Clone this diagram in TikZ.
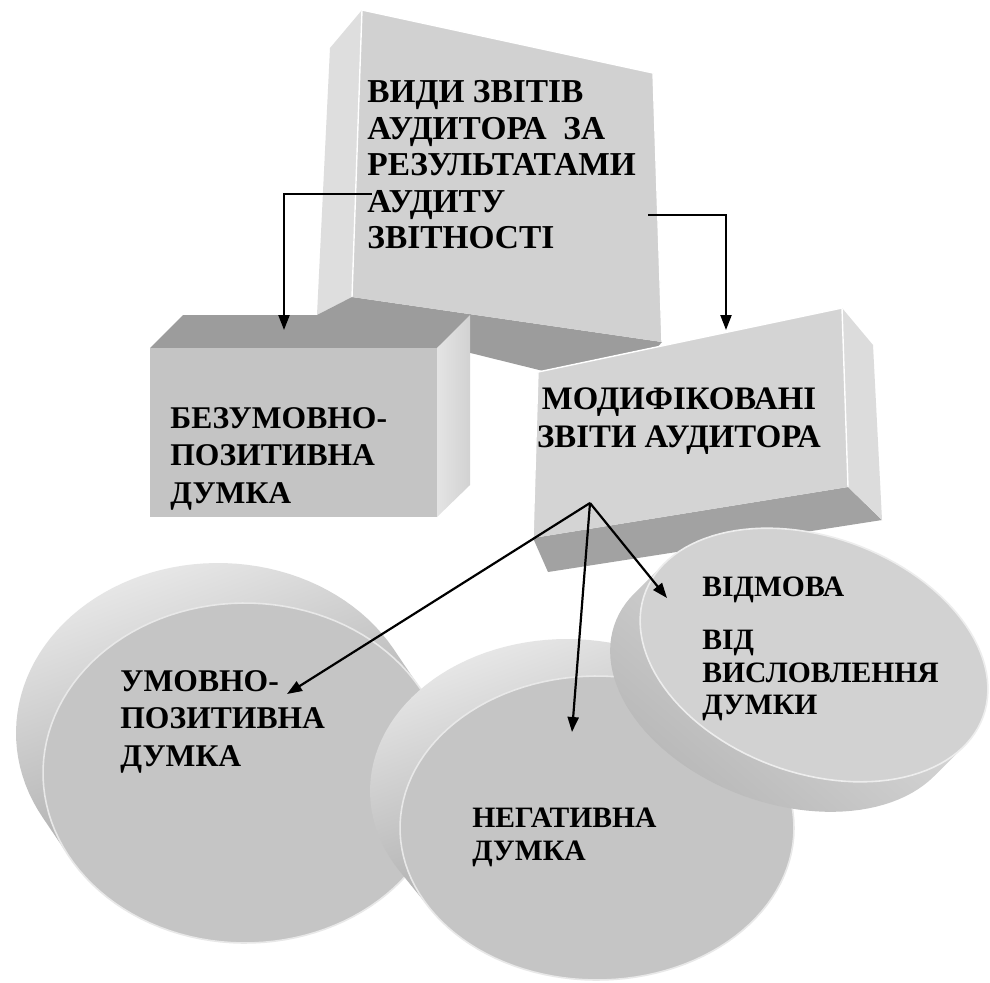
\documentclass[tikz,border=0pt]{standalone}
\usepackage{fontspec}
\setmainfont{Liberation Serif}
\usetikzlibrary{arrows.meta}
\definecolor{frontTop}{HTML}{D1D1D1}
\definecolor{sideTop}{HTML}{DEDEDE}
\definecolor{darkFace}{HTML}{9C9C9C}
\definecolor{frontLeft}{HTML}{C4C4C4}
\definecolor{sideLeft}{HTML}{E4E4E4}
\definecolor{frontMod}{HTML}{D4D4D4}
\definecolor{sideMod}{HTML}{DCDCDC}
\definecolor{botMod}{HTML}{A2A2A2}
\definecolor{discFace}{HTML}{C5C5C5}
\definecolor{discFaceV}{HTML}{D2D2D2}
\definecolor{bandLight}{HTML}{E6E6E6}
\definecolor{bandDark}{HTML}{8E8E8E}
\definecolor{bandMid}{HTML}{B8B8B8}
\newcommand\fontTopBox{\rmfamily\bfseries\fontsize{16.7}{18.25}\selectfont}
\newcommand\fontMidBox{\rmfamily\bfseries\fontsize{15.8}{18.75}\selectfont}
\newcommand\fontModBox{\rmfamily\bfseries\fontsize{16.4}{19}\selectfont}
\newcommand\fontDisc{\rmfamily\bfseries\fontsize{14.8}{16.25}\selectfont}
\begin{document}
\begin{tikzpicture}[x=0.5pt,y=-0.5pt,
  lbl/.style={inner sep=0pt, anchor=north west, align=left, text=black},
  conn/.style={line width=1.1pt, -{Triangle[length=7.5pt,width=5.5pt]}},
  hilite/.style={draw=white, line width=0.7pt, line join=round}]
\useasboundingbox (0,0) rectangle (990,982);
\fill[white] (0,0) rectangle (990,982);

% ---- top box
\fill[sideTop] (330,48) -- (362,10) -- (352,297) -- (317,315) -- cycle;
\fill[darkFace] (352,297) -- (662,342) -- (620,390) -- (317,315) -- cycle;
\fill[frontTop] (362,10) -- (653,73) -- (662,342) -- (352,297) -- cycle;
\draw[hilite] (352,297) -- (362,10) -- (653,73) -- (662,342);

% ---- left box
\fill[darkFace] (183,315) -- (470,315) -- (437,348) -- (150,348) -- cycle;
\shade[left color=sideLeft, right color=sideLeft!92!black] (437,348) -- (470,315) -- (470,485) -- (437,517) -- cycle;
\fill[frontLeft] (150,348) rectangle (437,517);

% ---- modified box
\fill[botMod] (533,538) -- (848,487) -- (882,520) -- (548,572) -- cycle;
\fill[sideMod] (842,308) -- (873,345) -- (882,520) -- (848,487) -- cycle;
\fill[frontMod] (538,372) -- (842,308) -- (848,487) -- (533,538) -- cycle;
\draw[hilite] (533,538) -- (538,372) -- (842,308) -- (848,487);

% ---- disc U
\shade[left color=bandLight, right color=bandDark, shading angle=20]
  plot[domain=-29.86:150.14, samples=60] ({245+202*cos(\x)},{773+170*sin(\x)})
  -- plot[domain=150.14:330.14, samples=60] ({218+202*cos(\x)},{733+170*sin(\x)}) -- cycle;
\filldraw[fill=discFace, draw=white!60!discFace, line width=0.8pt]
  plot[domain=0:360, samples=120] ({245+202*cos(\x)},{773+170*sin(\x)}) -- cycle;

% ---- disc N
\shade[left color=bandLight, right color=bandDark, shading angle=20]
  plot[domain=-32.03:147.97, samples=60] ({597+197*cos(\x)},{828+152*sin(\x)})
  -- plot[domain=147.97:327.97, samples=60] ({567+197*cos(\x)},{791+152*sin(\x)}) -- cycle;
\filldraw[fill=discFace, draw=white!60!discFace, line width=0.8pt]
  plot[domain=0:360, samples=120] ({597+197*cos(\x)},{828+152*sin(\x)}) -- cycle;

% ---- disc V
\shade[left color=bandLight, middle color=bandDark, right color=bandMid, shading angle=-40]
  plot[domain=197:377, samples=60] ({814+169.14*cos(\x)-40.36*sin(\x)},{655+61.56*cos(\x)+110.88*sin(\x)})
  -- plot[domain=17:197, samples=60] ({784+169.14*cos(\x)-40.36*sin(\x)},{685+61.56*cos(\x)+110.88*sin(\x)}) -- cycle;
\filldraw[fill=discFaceV, draw=white!60!discFaceV, line width=0.8pt]
  plot[domain=0:360, samples=120] ({814+169.14*cos(\x)-40.36*sin(\x)},{655+61.56*cos(\x)+110.88*sin(\x)}) -- cycle;

% ---- texts
\node[lbl, font=\fontTopBox] (tTop) at (367,80) {ВИДИ ЗВІТІВ\\АУДИТОРА\ \ ЗА\\РЕЗУЛЬТАТАМИ\\АУДИТУ\\ЗВІТНОСТІ};
\node[lbl, font=\fontMidBox] (tLeft) at (170,407) {БЕЗУМОВНО-\\ПОЗИТИВНА\\ДУМКА};
\node[lbl, font=\fontModBox, anchor=north, align=center] (tMod) at (679,387) {МОДИФІКОВАНІ\\ЗВІТИ АУДИТОРА};
\node[lbl, font=\fontMidBox] (tU) at (120,670) {УМОВНО-\\ПОЗИТИВНА\\ДУМКА};
\node[lbl, font=\fontDisc] (tN) at (472,808) {НЕГАТИВНА\\ДУМКА};
\node[lbl, font=\fontDisc] (tV) at (702,576) {ВІДМОВА\\[10.5pt]ВІД\\ВИСЛОВЛЕННЯ\\ДУМКИ};

% ---- connectors
\coordinate (sTL) at (372,194);
\coordinate (eL) at (284,330);
\coordinate (sTR) at (648,215);
\coordinate (eM) at (726,330);
\coordinate (sM) at (590,503);
\coordinate (eU) at (287,694);
\coordinate (eN) at (572,732);
\coordinate (eV) at (667,598);
\draw[conn] (sTL) -| (eL);
\draw[conn] (sTR) -| (eM);
\draw[conn] (sM) -- (eU);
\draw[conn] (sM) -- (eN);
\draw[conn] (sM) -- (eV);
\end{tikzpicture}
\end{document}
